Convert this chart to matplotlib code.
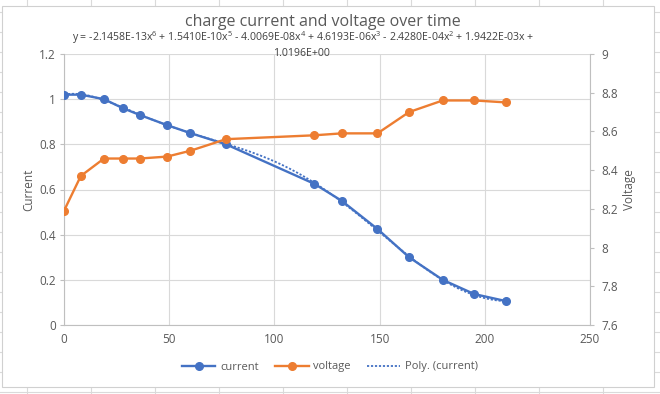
# Charge current and voltage over time, with 6th order poly trendline on current

import numpy as np
import matplotlib
matplotlib.use('Agg')
import matplotlib.pyplot as plt
from matplotlib.lines import Line2D
from matplotlib.patches import Rectangle
from matplotlib.ticker import FuncFormatter
from matplotlib import font_manager

time = [0, 8, 19, 28, 36, 49, 60, 77, 119, 132, 149, 164, 180, 195, 210]
current = [1.02, 1.02, 1.0, 0.96, 0.93, 0.885, 0.85, 0.80, 0.625, 0.55, 0.425, 0.30, 0.20, 0.137, 0.106]
voltage = [8.19, 8.37, 8.46, 8.46, 8.46, 8.47, 8.50, 8.56, 8.58, 8.59, 8.59, 8.70, 8.76, 8.76, 8.75]

# trendline coefficients as shown on the chart (x^6 ... x^0)
poly_coef = [-2.1458e-13, 1.5410e-10, -4.0069e-08, 4.6193e-06, -2.4280e-04, 1.9422e-03, 1.0196e+00]

title = 'charge current and voltage over time'
eq_line1 = ('y = -2.1458E-13x$^6$ + 1.5410E-10x$^5$ - 4.0069E-08x$^4$ + 4.6193E-06x$^3$ '
            '- 2.4280E-04x$^2$ + 1.9422E-03x +')
eq_line2 = '1.0196E+00'

blue = '#4472C4'
orange = '#ED7D31'
txt = '#595959'
grid = '#D9D9D9'

names = {f.name for f in font_manager.fontManager.ttflist}
narrow = 'Liberation Sans Narrow' if 'Liberation Sans Narrow' in names else 'Open Sans'
plt.rcParams['font.family'] = ['Open Sans', 'DejaVu Sans']
plt.rcParams['mathtext.default'] = 'regular'

fig = plt.figure(figsize=(6.6, 3.94), dpi=100)
W, H = 660, 394

# spreadsheet cells behind the chart
for x in range(27, W, 64):
    fig.add_artist(Line2D([x / W, x / W], [0, 1], color='#DADADA', lw=0.8, zorder=-3))
for y in np.arange(11.7, H, 20):
    fig.add_artist(Line2D([0, 1], [1 - y / H, 1 - y / H], color='#DADADA', lw=0.8, zorder=-3))
fig.add_artist(Rectangle((2 / W, 1 - 387 / H), 652 / W, 381 / H, facecolor='white',
                         edgecolor='#D0D0D0', lw=0.8, zorder=-2))

ax = fig.add_axes([64 / W, 1 - 325 / H, 526 / W, 271 / H])
ax2 = ax.twinx()

xs = np.linspace(0, max(time), 300)
trend = np.polyval(poly_coef, xs)

ax.plot(xs, trend, color=blue, lw=1.3, ls=(0, (1.2, 1.0)), zorder=3)
ax.plot(time, current, color=blue, lw=1.7, marker='o', ms=5.5, zorder=4)
ax2.plot(time, voltage, color=orange, lw=1.7, marker='o', ms=5.5, zorder=4)

fmt = FuncFormatter(lambda v, p: '{:g}'.format(round(v, 3)))

ax.set_xlim(0, 250)
ax.set_ylim(0, 1.2)
ax.set_xticks(np.arange(0, 251, 50))
ax.set_yticks(np.arange(0, 1.21, 0.2))
ax2.set_ylim(7.6, 9)
ax2.set_yticks(np.arange(7.6, 9.01, 0.2))
ax.yaxis.set_major_formatter(fmt)
ax2.yaxis.set_major_formatter(fmt)
ax.xaxis.set_major_formatter(fmt)

ax.grid(True, color=grid, lw=0.8)
ax.set_axisbelow(True)

for a in (ax, ax2):
    for s in a.spines.values():
        s.set_visible(False)
ax.spines['left'].set_visible(True)
ax.spines['bottom'].set_visible(True)
ax2.spines['right'].set_visible(True)
for s in (ax.spines['left'], ax.spines['bottom'], ax2.spines['right']):
    s.set_color('#BFBFBF')
    s.set_linewidth(0.8)

ax.tick_params(axis='y', colors='#BFBFBF', labelcolor=txt, labelsize=8.5, length=3, pad=3)
ax.tick_params(axis='x', colors=grid, labelcolor=txt, labelsize=8.5, length=0, pad=6)
ax2.tick_params(axis='y', colors='#BFBFBF', labelcolor=txt, labelsize=8.5, length=3, pad=5)

ax.set_ylabel('Current', color=txt, fontsize=8.5, labelpad=3)
ax2.set_ylabel('Voltage', color=txt, fontsize=8.5, rotation=90, labelpad=4)

fig.text(323 / W, 1 - 22 / H, title, ha='center', va='center', color=txt, fontsize=11.5)
fig.text(303 / W, 1 - 38 / H, eq_line1, ha='center', va='center', color='#404040',
         fontsize=7.6, family=narrow)
fig.text(301 / W, 1 - 53 / H, eq_line2, ha='center', va='center', color='#404040',
         fontsize=7.6, family=narrow)

handles = [
    Line2D([], [], color=blue, lw=1.7, marker='o', ms=5.5),
    Line2D([], [], color=orange, lw=1.7, marker='o', ms=5.5),
    Line2D([], [], color=blue, lw=1.3, ls=(0, (1.2, 1.0))),
]
fig.legend(handles, ['current', 'voltage', 'Poly. (current)'], loc='center',
           bbox_to_anchor=(330 / W, 1 - 367 / H), ncol=3, frameon=False,
           fontsize=8, labelcolor=txt, handlelength=3.0, columnspacing=1.5, handletextpad=0.4)

fig.savefig('out.png', dpi=100)
print('created plot out.png')
